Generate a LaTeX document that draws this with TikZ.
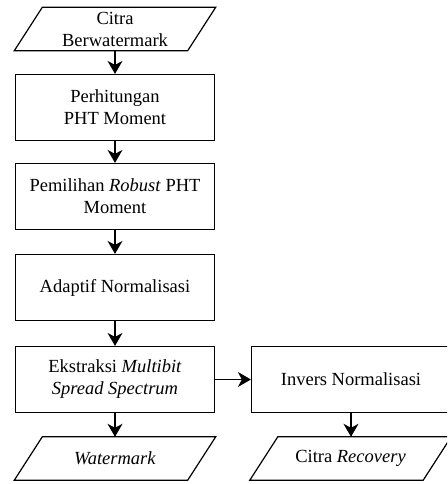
\documentclass[tikz,border=0pt]{standalone}
\usepackage{fontspec}
\setmainfont{Liberation Serif}
\usetikzlibrary{arrows.meta,calc}
\begin{document}
\begin{tikzpicture}[x=1pt,y=-1pt,
  txt/.style={align=center, font=\fontsize{18.5}{22}\selectfont, inner sep=0pt},
  proc/.style={txt, draw, line width=1.2pt, minimum width=199pt, minimum height=66pt},
  io/.style={txt, minimum width=201pt, minimum height=43pt},
  iobox/.style={line width=1.2pt, line join=miter},
  arr/.style={-{Stealth[length=13pt,width=15pt,inset=4pt]}, line width=1.2pt}]
\useasboundingbox (0,0) rectangle (447,484);
\clip (0,0) rectangle (447,484);
% nodes
\node[io]   (in)  at (115,29)  {Citra\\Berwatermark};
\node[proc] (b1)  at (115,107.5) {Perhitungan\\PHT Moment};
\node[proc] (b2)  at (115,196.5) {Pemilihan \textit{Robust} PHT\\Moment};
\node[proc] (b3)  at (115,287.5) {Adaptif Normalisasi};
\node[proc] (b4)  at (115,379.5) {Ekstraksi \textit{Multibit}\\\textit{Spread Spectrum}};
\node[proc] (b5)  at (351,379.5) {Invers Normalisasi};
\node[io]   (wm)  at (115,458.5) {\textit{Watermark}};
\node[io]   (rec) at (350.5,458.5) {Citra \textit{Recovery}};
% parallelogram outlines
\foreach \p in {in,wm,rec}{
  \draw[iobox] (\p.south west) -- ($(\p.north west)+(28,0)$) -- (\p.north east)
     -- ($(\p.south east)-(28,0)$) -- cycle;
}
% connectors
\draw[arr] (in.south -| b1.north) -- (b1.north);
\draw[arr] (b1) -- (b2);
\draw[arr] (b2) -- (b3);
\draw[arr] (b3) -- (b4);
\draw[arr] (b4.south) -- (wm.north -| b4.south);
\draw[arr] (b4) -- (b5);
\draw[arr] (b5.south) -- (rec.north -| b5.south);
\end{tikzpicture}
\end{document}
